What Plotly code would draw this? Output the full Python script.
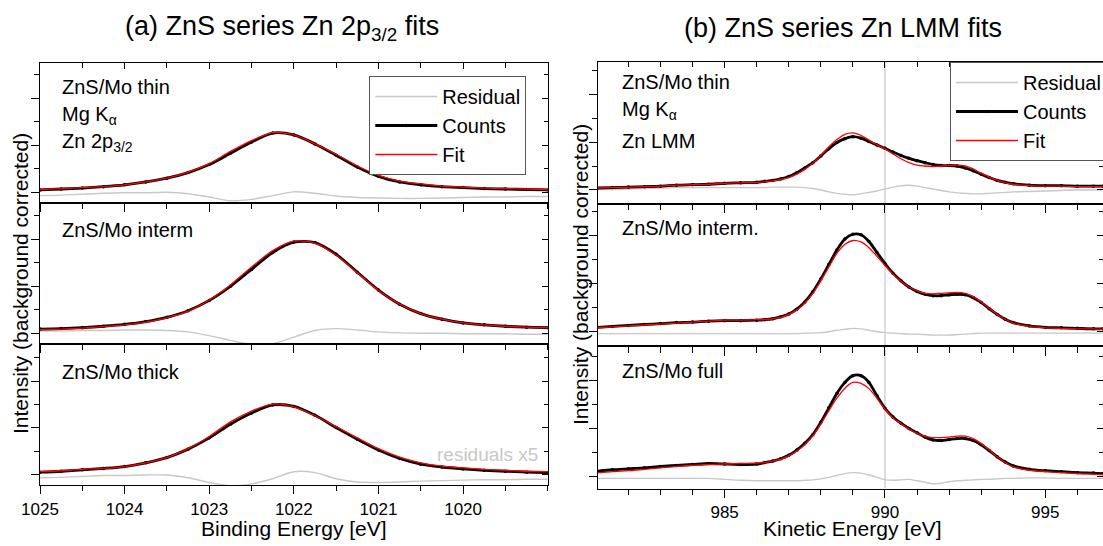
import plotly.graph_objects as go

FONT = "Liberation Sans, Arial, Helvetica, sans-serif"
W, H = 1103, 546

# ---------------- Zn 2p3/2 region (binding energy, eV) ----------------
BE = [1025.00, 1024.75, 1024.50, 1024.25, 1024.00, 1023.75, 1023.50, 1023.25,
      1023.00, 1022.75, 1022.50, 1022.25, 1022.00, 1021.75, 1021.50, 1021.25,
      1021.00, 1020.75, 1020.50, 1020.25, 1020.00, 1019.75, 1019.50, 1019.25,
      1019.00]

thin_2p_counts = [0.05, 0.07, 0.09, 0.12, 0.16, 0.22, 0.30, 0.42, 0.59, 0.83, 1.07, 1.26, 1.22,
                  1.03, 0.79, 0.54, 0.34, 0.22, 0.16, 0.12, 0.10, 0.08, 0.07, 0.06, 0.05]
thin_2p_fit = [0.06, 0.08, 0.10, 0.12, 0.16, 0.22, 0.30, 0.43, 0.61, 0.87, 1.10, 1.27, 1.22,
               1.03, 0.81, 0.56, 0.36, 0.24, 0.18, 0.13, 0.11, 0.09, 0.08, 0.07, 0.06]
thin_2p_resid = [-0.07, -0.06, -0.04, -0.02, -0.01, -0.01, 0.00, -0.03, -0.10, -0.18, -0.15, -0.07, 0.01,
                 -0.02, -0.08, -0.11, -0.12, -0.13, -0.13, -0.12, -0.11, -0.10, -0.10, -0.09, -0.09]

interm_2p_counts = [0.09, 0.10, 0.12, 0.15, 0.19, 0.25, 0.34, 0.48, 0.70, 1.00, 1.36, 1.72, 1.94,
                    1.93, 1.68, 1.30, 0.92, 0.62, 0.42, 0.30, 0.22, 0.18, 0.15, 0.13, 0.12]
interm_2p_fit = [0.08, 0.09, 0.11, 0.14, 0.18, 0.24, 0.33, 0.47, 0.71, 1.03, 1.41, 1.76, 1.96,
                 1.92, 1.66, 1.29, 0.91, 0.62, 0.42, 0.30, 0.22, 0.18, 0.15, 0.13, 0.12]
interm_2p_resid = [0.05, 0.05, 0.06, 0.06, 0.07, 0.07, 0.06, 0.03, -0.05, -0.15, -0.24, -0.22, -0.08,
                   0.06, 0.10, 0.07, 0.03, 0.01, 0.00, 0.00, -0.01, -0.01, -0.01, -0.02, -0.02]

thick_2p_counts = [0.06, 0.08, 0.11, 0.14, 0.18, 0.26, 0.37, 0.55, 0.79, 1.08, 1.32, 1.49, 1.46,
                   1.27, 1.01, 0.76, 0.53, 0.35, 0.23, 0.17, 0.13, 0.10, 0.08, 0.06, 0.05]
thick_2p_fit = [0.07, 0.09, 0.12, 0.14, 0.18, 0.26, 0.37, 0.56, 0.82, 1.13, 1.36, 1.51, 1.45,
                1.26, 1.03, 0.79, 0.56, 0.38, 0.26, 0.19, 0.15, 0.12, 0.10, 0.08, 0.07]
thick_2p_resid = [-0.06, -0.05, -0.03, -0.01, -0.01, 0.00, 0.00, -0.06, -0.16, -0.23, -0.19, -0.08, 0.07,
                  0.05, -0.08, -0.15, -0.16, -0.15, -0.13, -0.12, -0.11, -0.10, -0.10, -0.09, -0.09]

# ---------------- Zn LMM region (kinetic energy, eV) ----------------
KE = [981.0, 981.5, 982.0, 982.5, 983.0, 983.5, 984.0, 984.5, 985.0, 985.5, 986.0,
      986.25, 986.5, 986.75, 987.0, 987.25, 987.5, 987.75, 988.0, 988.25, 988.5, 988.75,
      989.0, 989.25, 989.5, 989.75, 990.0, 990.25, 990.5, 990.75, 991.0, 991.25, 991.5,
      991.75, 992.0, 992.25, 992.5, 992.75, 993.0, 993.25, 993.5, 993.75, 994.0,
      994.5, 995.0, 995.5, 996.0, 996.5, 996.8]

thin_lmm_counts = [0.04, 0.05, 0.06, 0.07, 0.08, 0.10, 0.11, 0.12, 0.14, 0.15, 0.16,
                   0.18, 0.20, 0.23, 0.28, 0.36, 0.46, 0.57, 0.71, 0.86, 0.99, 1.07,
                   1.11, 1.08, 1.01, 0.94, 0.87, 0.79, 0.72, 0.66, 0.61, 0.57, 0.53,
                   0.51, 0.51, 0.50, 0.46, 0.40, 0.33, 0.26, 0.20, 0.16, 0.13,
                   0.10, 0.09, 0.09, 0.08, 0.08, 0.08]
thin_lmm_fit = [0.04, 0.05, 0.06, 0.07, 0.08, 0.10, 0.11, 0.12, 0.14, 0.15, 0.16,
                0.17, 0.19, 0.22, 0.26, 0.33, 0.43, 0.56, 0.72, 0.90, 1.05, 1.16,
                1.19, 1.14, 1.04, 0.94, 0.86, 0.75, 0.65, 0.57, 0.52, 0.50, 0.49,
                0.50, 0.51, 0.52, 0.50, 0.44, 0.35, 0.27, 0.20, 0.15, 0.12,
                0.09, 0.08, 0.08, 0.07, 0.07, 0.07]
thin_lmm_resid = [0.01, 0.01, 0.02, 0.03, 0.04, 0.05, 0.05, 0.05, 0.05, 0.05, 0.05,
                  0.05, 0.06, 0.06, 0.06, 0.06, 0.05, 0.03, 0.00, -0.04, -0.07, -0.09,
                  -0.10, -0.08, -0.05, -0.02, 0.02, 0.06, 0.09, 0.10, 0.08, 0.05, 0.02,
                  -0.01, -0.04, -0.06, -0.07, -0.08, -0.08, -0.07, -0.06, -0.05, -0.04,
                  -0.03, -0.02, -0.01, 0.00, 0.00, 0.00]

interm_lmm_counts = [0.09, 0.11, 0.13, 0.15, 0.17, 0.19, 0.20, 0.22, 0.23, 0.23, 0.24,
                     0.25, 0.27, 0.31, 0.37, 0.47, 0.62, 0.83, 1.10, 1.40, 1.70, 1.93,
                     2.03, 2.02, 1.88, 1.65, 1.42, 1.22, 1.06, 0.93, 0.84, 0.78, 0.75,
                     0.75, 0.77, 0.78, 0.77, 0.71, 0.61, 0.48, 0.36, 0.26, 0.19,
                     0.12, 0.09, 0.08, 0.07, 0.06, 0.06]
interm_lmm_fit = [0.08, 0.10, 0.12, 0.14, 0.16, 0.18, 0.20, 0.22, 0.24, 0.24, 0.25,
                  0.25, 0.27, 0.30, 0.36, 0.45, 0.60, 0.80, 1.06, 1.35, 1.63, 1.82,
                  1.90, 1.87, 1.75, 1.57, 1.38, 1.20, 1.05, 0.93, 0.85, 0.80, 0.79,
                  0.80, 0.81, 0.82, 0.80, 0.73, 0.62, 0.49, 0.36, 0.26, 0.18,
                  0.11, 0.08, 0.07, 0.06, 0.06, 0.05]
interm_lmm_resid = [-0.04, -0.04, -0.04, -0.04, -0.04, -0.04, -0.04, -0.04, -0.04, -0.04, -0.04,
                    -0.04, -0.04, -0.04, -0.04, -0.04, -0.03, -0.03, -0.02, 0.00, 0.03, 0.05,
                    0.07, 0.06, 0.03, 0.00, -0.02, -0.03, -0.04, -0.05, -0.05, -0.06, -0.07,
                    -0.07, -0.07, -0.06, -0.05, -0.04, -0.03, -0.03, -0.03, -0.03, -0.03,
                    -0.03, -0.03, -0.03, -0.03, -0.03, -0.03]

full_lmm_counts = [0.10, 0.13, 0.15, 0.17, 0.20, 0.22, 0.24, 0.26, 0.25, 0.24, 0.25,
                   0.28, 0.31, 0.36, 0.43, 0.54, 0.68, 0.86, 1.12, 1.42, 1.72, 1.95,
                   2.09, 2.09, 1.95, 1.67, 1.41, 1.23, 1.10, 0.99, 0.90, 0.81, 0.75,
                   0.74, 0.76, 0.78, 0.78, 0.74, 0.65, 0.53, 0.40, 0.29, 0.21,
                   0.14, 0.11, 0.09, 0.07, 0.06, 0.05]
full_lmm_fit = [0.06, 0.09, 0.11, 0.14, 0.17, 0.20, 0.22, 0.24, 0.25, 0.26, 0.27,
                0.28, 0.31, 0.35, 0.42, 0.52, 0.65, 0.84, 1.08, 1.36, 1.62, 1.83,
                1.95, 1.93, 1.82, 1.62, 1.39, 1.21, 1.09, 0.98, 0.89, 0.83, 0.80,
                0.80, 0.81, 0.83, 0.83, 0.78, 0.68, 0.54, 0.40, 0.28, 0.19,
                0.12, 0.09, 0.07, 0.05, 0.04, 0.03]
full_lmm_resid = [-0.05, -0.05, -0.05, -0.05, -0.05, -0.05, -0.05, -0.05, -0.07, -0.09, -0.10,
                  -0.10, -0.10, -0.10, -0.10, -0.10, -0.09, -0.08, -0.06, -0.03, 0.01, 0.05,
                  0.07, 0.06, 0.02, -0.03, -0.08, -0.09, -0.08, -0.07, -0.10, -0.13, -0.16,
                  -0.15, -0.12, -0.10, -0.09, -0.08, -0.07, -0.07, -0.06, -0.05, -0.05,
                  -0.04, -0.04, -0.05, -0.05, -0.05, -0.05]

BE_TICKS = [1025, 1024, 1023, 1022, 1021, 1020]
KE_TICKS = [985, 990, 995]
Y_TICKS = [0, 1, 2]
KE_MARKER = 990

SERIES_NAMES = ["Residual", "Counts", "Fit"]


# ---------------- layout geometry (pixels) ----------------
def fx(px):
    return px / W


def fy(py):
    return 1 - py / H


panels = [
    # (energies, counts, fit, resid, xpix, ypix, xrange, yrange, side)
    (BE, thin_2p_counts, thin_2p_fit, thin_2p_resid, (40, 547.7), (62.5, 203.3), (1025, 1019), (-0.234, 2.762), "L"),
    (BE, interm_2p_counts, interm_2p_fit, interm_2p_resid, (40, 547.7), (203.3, 344.2), (1025, 1019), (-0.232, 2.766), "L"),
    (BE, thick_2p_counts, thick_2p_fit, thick_2p_resid, (40, 547.7), (344.2, 485.0), (1025, 1019), (-0.213, 2.783), "L"),
    (KE, thin_lmm_counts, thin_lmm_fit, thin_lmm_resid, (598, 1103), (62.0, 204.2), (981.05, 996.8), (-0.296, 2.667), "R"),
    (KE, interm_lmm_counts, interm_lmm_fit, interm_lmm_resid, (598, 1103), (204.2, 346.4), (981.05, 996.8), (-0.306, 2.656), "R"),
    (KE, full_lmm_counts, full_lmm_fit, full_lmm_resid, (598, 1103), (346.4, 488.6), (981.05, 996.8), (-0.2625, 2.70), "R"),
]


def ax_id(letter, k):
    return letter if k == 1 else f"{letter}{k}"


fig = go.Figure()
layout_axes = {}
shapes = []

for i, (E, cnt, fit, res, xp, yp, xr, yr, side) in enumerate(panels):
    k = i + 1
    xid, yid = ax_id("x", k), ax_id("y", k)
    top_row = i in (0, 3)
    bottom_row = i in (2, 5)
    legend_id = "legend" if side == "L" else "legend2"

    fig.add_trace(go.Scatter(
        x=E, y=res, mode="lines", name=SERIES_NAMES[0],
        line=dict(color="#c8c8c8", width=1.4, shape="spline", smoothing=0.8),
        xaxis=xid, yaxis=yid, legend=legend_id, showlegend=top_row, hoverinfo="skip"))
    fig.add_trace(go.Scatter(
        x=E, y=cnt, mode="lines+markers", name=SERIES_NAMES[1],
        line=dict(color="black", width=2.8, shape="spline", smoothing=0.8),
        marker=dict(color="black", size=3.5),
        xaxis=xid, yaxis=yid, legend=legend_id, showlegend=top_row, hoverinfo="skip"))
    fig.add_trace(go.Scatter(
        x=E, y=fit, mode="lines", name=SERIES_NAMES[2],
        line=dict(color="#ff0000", width=1.3, shape="spline", smoothing=0.8),
        xaxis=xid, yaxis=yid, legend=legend_id, showlegend=top_row, hoverinfo="skip"))

    if side == "L":
        xticks, xminor = BE_TICKS, 0.5
    else:
        xticks, xminor = KE_TICKS, 1.0

    common = dict(showgrid=False, zeroline=False, tickcolor="black", tickwidth=1.2,
                  fixedrange=True, automargin=False)

    layout_axes["xaxis" + ("" if k == 1 else str(k))] = dict(
        domain=[fx(xp[0]), fx(xp[1])], range=list(xr), anchor=yid,
        showline=True, linecolor="black", linewidth=1.3, mirror=True,
        ticks="outside", ticklen=8, tickmode="array", tickvals=xticks,
        showticklabels=bottom_row,
        tickfont=dict(family=FONT, size=17, color="black"),
        minor=dict(ticks="outside", ticklen=5, tickmode="linear", tick0=0, dtick=xminor,
                   tickcolor="black", tickwidth=1.2, showgrid=False),
        **common)
    layout_axes["yaxis" + ("" if k == 1 else str(k))] = dict(
        domain=[fy(yp[1]), fy(yp[0])], range=list(yr), anchor=xid,
        showline=True, linecolor="black", linewidth=1.3, mirror=(side == "L"),
        ticks="outside", ticklen=8, tickmode="array", tickvals=Y_TICKS,
        showticklabels=False,
        minor=dict(ticks="outside", ticklen=5, tickmode="linear", tick0=0, dtick=0.5,
                   tickcolor="black", tickwidth=1.2, showgrid=False),
        **common)

    # inward ticks along the top and right frame edges
    ox, oy = f"x{k + 6}", f"y{k + 6}"
    layout_axes[f"xaxis{k + 6}"] = dict(
        overlaying=xid, side="top", anchor=yid, range=list(xr), showline=False,
        ticks="inside", ticklen=6, tickmode="array", tickvals=xticks, showticklabels=False,
        minor=dict(ticks="inside", ticklen=5, tickmode="linear", tick0=0, dtick=xminor,
                   tickcolor="black", tickwidth=1.2, showgrid=False),
        **common)
    layout_axes[f"yaxis{k + 6}"] = dict(
        overlaying=yid, side="right", anchor=xid, range=list(yr), showline=False,
        ticks="inside", ticklen=6, tickmode="array", tickvals=Y_TICKS, showticklabels=False,
        minor=dict(ticks="inside", ticklen=4, tickmode="linear", tick0=0, dtick=0.5,
                   tickcolor="black", tickwidth=1.2, showgrid=False),
        **common)
    fig.add_trace(go.Scatter(x=[], y=[], xaxis=ox, yaxis=yid, showlegend=False, hoverinfo="skip"))
    fig.add_trace(go.Scatter(x=[], y=[], xaxis=xid, yaxis=oy, showlegend=False, hoverinfo="skip"))

    if side == "R":
        shapes.append(dict(type="line", xref=xid, yref=f"{yid} domain",
                           x0=KE_MARKER, x1=KE_MARKER, y0=0, y1=1, layer="below",
                           line=dict(color="#c8c8c8", width=1.2)))


def label(text, x, y, size=20, xanchor="left", color="black", angle=0):
    return dict(text=text, x=fx(x), y=fy(y), xref="paper", yref="paper",
                xanchor=xanchor, yanchor="middle", showarrow=False, textangle=angle,
                font=dict(family=FONT, size=size, color=color))


annotations = [
    label("(a) ZnS series Zn 2p<sub>3/2</sub> fits", 281.7, 28, size=27, xanchor="center"),
    label("(b) ZnS series Zn LMM fits", 843, 28, size=27, xanchor="center"),
    label("Binding Energy [eV]", 294, 528, size=21, xanchor="center"),
    label("Kinetic Energy [eV]", 852, 528, size=21, xanchor="center"),
    label("Intensity (background corrected)", 20, 284, size=21, xanchor="center", angle=-90),
    label("Intensity (background corrected)", 580, 275, size=21, xanchor="center", angle=-90),
    label("ZnS/Mo thin", 60, 87),
    label("Mg K<sub>α</sub>", 60, 115),
    label("Zn 2p<sub>3/2</sub>", 60, 143),
    label("ZnS/Mo interm", 60, 230),
    label("ZnS/Mo thick", 60, 372),
    label("residuals x5", 540, 454, size=19, xanchor="right", color="#c8c8c8"),
    label("ZnS/Mo thin", 620, 82),
    label("Mg K<sub>α</sub>", 620, 111),
    label("Zn LMM", 620, 141),
    label("ZnS/Mo interm.", 620, 228),
    label("ZnS/Mo full", 620, 371),
]

legend_style = dict(xanchor="left", yanchor="top", bgcolor="white", bordercolor="#555555",
                    borderwidth=1, font=dict(family=FONT, size=20, color="black"),
                    itemwidth=62, tracegroupgap=0, traceorder="normal")

fig.update_layout(
    width=W, height=H, autosize=False,
    margin=dict(l=0, r=0, t=0, b=0, pad=0, autoexpand=False),
    paper_bgcolor="white", plot_bgcolor="white",
    font=dict(family=FONT, color="black"),
    showlegend=True,
    legend=dict(x=fx(369.3), y=fy(76), **legend_style),
    legend2=dict(x=fx(950), y=fy(62), **legend_style),
    annotations=annotations,
    shapes=shapes,
    **layout_axes,
)

fig.write_html("out.html")
